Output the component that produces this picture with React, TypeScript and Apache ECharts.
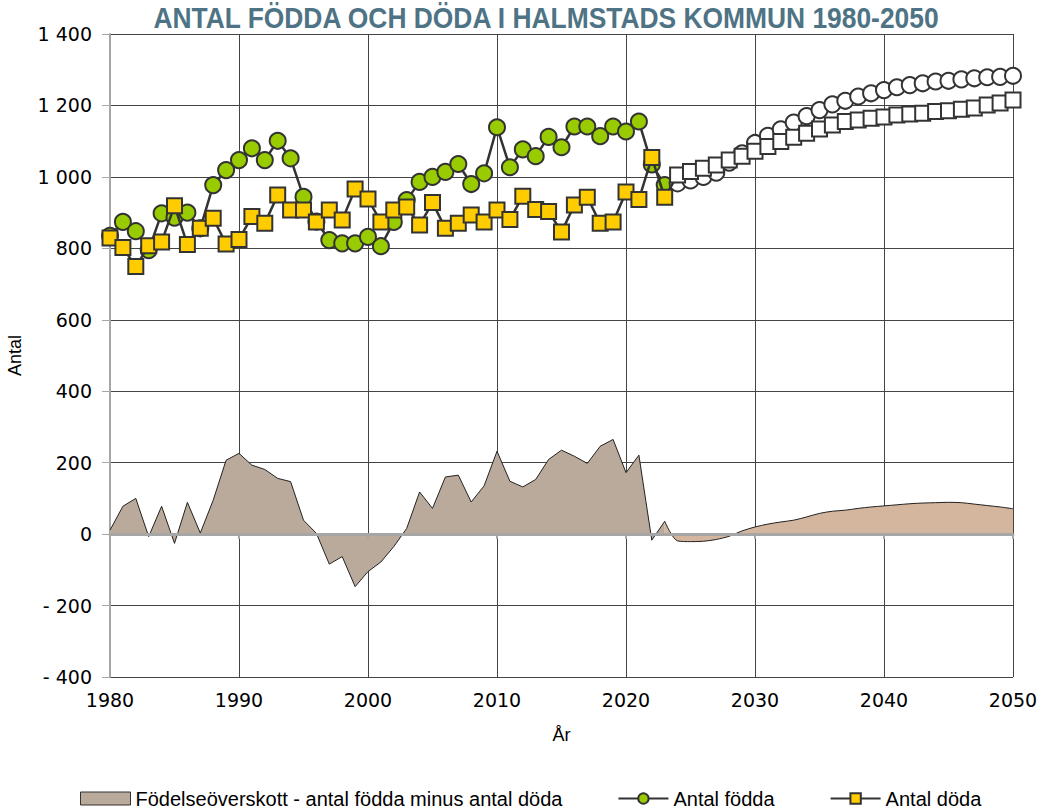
import React, { useEffect, useRef } from "react";
import * as echarts from "echarts";

const START_YEAR = 1980;
const END_YEAR = 2050;
const LAST_OBSERVED_YEAR = 2023;

const TITLE = "ANTAL FÖDDA OCH DÖDA I HALMSTADS KOMMUN 1980-2050";
const SURPLUS_NAME = "Födelseöverskott - antal födda minus antal döda";
const BIRTHS_NAME = "Antal födda";
const DEATHS_NAME = "Antal döda";

// Antal födda 1980-2050 (1980-2023 utfall, 2024-2050 prognos)
const births = [
  835, 874, 848, 795, 898, 886, 900, 856, 977, 1019,
  1047, 1080, 1047, 1101, 1052, 944, 875, 823, 814, 814,
  832, 806, 874, 935, 986, 1000, 1014, 1036, 980, 1010,
  1139, 1027, 1077, 1058, 1112, 1083, 1141, 1141, 1114, 1141,
  1127, 1155, 1035, 977,
  982, 990, 1000, 1012, 1040, 1066,
  1095, 1115, 1133, 1152, 1170, 1187, 1203, 1213, 1225, 1234,
  1243, 1251, 1257, 1262, 1267, 1269, 1273, 1276, 1279, 1280,
  1283,
];

// Antal döda 1980-2050
const deaths = [
  829, 802, 749, 807, 818, 919, 811, 856, 884, 812,
  825, 889, 870, 949, 907, 907, 874, 907, 879, 966,
  938, 874, 907, 916, 865, 928, 856, 870, 893, 874,
  907, 881, 946, 909, 903, 846, 921, 943, 870, 874,
  958, 937, 1054, 943,
  1005, 1015, 1024, 1033, 1047, 1058,
  1072, 1085, 1099, 1111, 1122, 1134, 1145, 1155, 1159, 1164,
  1168, 1173, 1176, 1178, 1183, 1185, 1189, 1193, 1201, 1207,
  1215,
];

// Födelseöverskott 1980-2023 (utfall)
const surplusObserved = [
  11, 78, 100, -7, 78, -26, 89, 3, 95, 207,
  226, 193, 181, 156, 147, 39, 2, -84, -63, -147,
  -105, -78, -35, 16, 118, 72, 160, 165, 90, 135,
  232, 148, 132, 153, 209, 235, 218, 198, 246, 265,
  172, 221, -17, 36,
];

// Födelseöverskott 2023-2050 (prognos)
const surplusForecast = [
  36, -19, -21, -20, -15, -6, 9,
  20, 28, 34, 39, 48, 58, 64, 67, 72, 76,
  79, 82, 85, 87, 88, 89, 88, 84, 80, 76,
  71,
];

const GREEN = "#99CC00";
const YELLOW = "#FFCC00";
const TAUPE = "#B9AA9B";
const PEACH = "#D4B59D";
const DARK = "#333333";
const GRID = "#444444";
const AXISGRAY = "#A6A6A6";

const LABEL_FONT = "DejaVu Sans";
const TEXT_FONT = "'Liberation Sans', Arial, sans-serif";

function fmtY(v: number): string {
  const a = Math.abs(v);
  const s = a >= 1000 ? Math.floor(a / 1000) + " " + String(a % 1000).padStart(3, "0") : String(a);
  return v < 0 ? "- " + s : s;
}

export default function App() {
  const ref = useRef<HTMLDivElement>(null);

  useEffect(() => {
    const chart = echarts.init(ref.current!, undefined, { renderer: "svg" });

    const yearOf = (i: number) => START_YEAR + i;
    const birthsData = births.map((v, i) => {
      const y = yearOf(i);
      return y > LAST_OBSERVED_YEAR
        ? { value: [y, v], itemStyle: { color: "#FFFFFF" } }
        : { value: [y, v] };
    });
    const deathsData = deaths.map((v, i) => {
      const y = yearOf(i);
      return y > LAST_OBSERVED_YEAR
        ? { value: [y, v], itemStyle: { color: "#FFFFFF" } }
        : { value: [y, v] };
    });
    const surplusObsData = surplusObserved.map((v, i) => [yearOf(i), v]);
    const surplusFcData = surplusForecast.map((v, i) => [LAST_OBSERVED_YEAR + i, v]);

    chart.setOption({
      animation: false,
      backgroundColor: "#FFFFFF",
      graphic: [
        {
          type: "text",
          x: 546,
          y: 18,
          scaleX: 0.91,
          style: {
            text: TITLE,
            fontFamily: TEXT_FONT,
            fontWeight: "bold",
            fontSize: 29,
            fill: "#4E7384",
            align: "center",
            verticalAlign: "middle",
          },
        },
      ],
      grid: {
        left: 110,
        right: 24,
        top: 34,
        bottom: 132,
        containLabel: false,
        outerBoundsMode: "none",
      },
      legend: {
        left: 75,
        top: 783,
        itemWidth: 50,
        itemHeight: 13,
        itemGap: 55,
        textStyle: { fontFamily: TEXT_FONT, fontSize: 20, color: "#000", lineHeight: 21 },
        data: [
          {
            name: SURPLUS_NAME,
            icon: "rect",
            itemStyle: { color: TAUPE, borderColor: DARK, borderWidth: 1 },
          },
          { name: BIRTHS_NAME },
          { name: DEATHS_NAME },
        ],
      },
      xAxis: [
        {
          type: "value",
          min: START_YEAR,
          max: END_YEAR,
          interval: 10,
          position: "bottom",
          axisLine: { show: false, onZero: false },
          axisTick: { show: false },
          axisLabel: {
            fontFamily: LABEL_FONT,
            fontSize: 19,
            color: "#000",
            margin: 13,
            formatter: (v: number) => String(v),
          },
          splitLine: { show: true, lineStyle: { color: GRID, width: 1 } },
          name: "År",
          nameLocation: "middle",
          nameGap: 49,
          nameTextStyle: { fontFamily: TEXT_FONT, fontSize: 18, color: "#000" },
        },
        {
          type: "value",
          min: START_YEAR,
          max: END_YEAR,
          interval: 10,
          position: "bottom",
          z: 5,
          axisLine: { show: true, onZero: true, lineStyle: { color: AXISGRAY, width: 3 } },
          axisTick: { show: true, length: 5, lineStyle: { color: AXISGRAY, width: 2 } },
          axisLabel: { show: false },
          splitLine: { show: false },
        },
      ],
      yAxis: {
        type: "value",
        min: -400,
        max: 1400,
        interval: 200,
        axisLine: { show: true, lineStyle: { color: AXISGRAY, width: 2 } },
        axisTick: { show: true, length: 8, lineStyle: { color: AXISGRAY, width: 1 } },
        axisLabel: { fontFamily: LABEL_FONT, fontSize: 19, color: "#000", margin: 18, formatter: fmtY },
        splitLine: { show: true, lineStyle: { color: GRID, width: 1 } },
        name: "Antal",
        nameLocation: "middle",
        nameRotate: 90,
        nameGap: 86,
        nameTextStyle: { fontFamily: TEXT_FONT, fontSize: 18, color: "#000" },
      },
      series: [
        {
          name: SURPLUS_NAME,
          type: "line",
          xAxisIndex: 0,
          data: surplusObsData,
          symbol: "none",
          lineStyle: { color: "#222", width: 1 },
          itemStyle: { color: TAUPE },
          areaStyle: { color: TAUPE, opacity: 1 },
          z: 1,
        },
        {
          name: "Prognos födelseöverskott",
          type: "line",
          xAxisIndex: 0,
          data: surplusFcData,
          symbol: "none",
          smooth: 0.3,
          lineStyle: { color: "#222", width: 1 },
          itemStyle: { color: PEACH },
          areaStyle: { color: PEACH, opacity: 1 },
          z: 1,
        },
        {
          name: BIRTHS_NAME,
          type: "line",
          xAxisIndex: 0,
          data: birthsData,
          symbol: "circle",
          symbolSize: 16,
          lineStyle: { color: DARK, width: 2.5 },
          itemStyle: { color: GREEN, borderColor: DARK, borderWidth: 2 },
          z: 3,
        },
        {
          name: DEATHS_NAME,
          type: "line",
          xAxisIndex: 0,
          data: deathsData,
          symbol: "rect",
          symbolSize: 15,
          lineStyle: { color: DARK, width: 2.5 },
          itemStyle: { color: YELLOW, borderColor: DARK, borderWidth: 2 },
          z: 4,
        },
      ],
    });

    return () => chart.dispose();
  }, []);

  return (
    <div
      ref={ref}
      style={{ position: "fixed", left: 0, top: 0, width: 1037, height: 809 }}
    />
  );
}
